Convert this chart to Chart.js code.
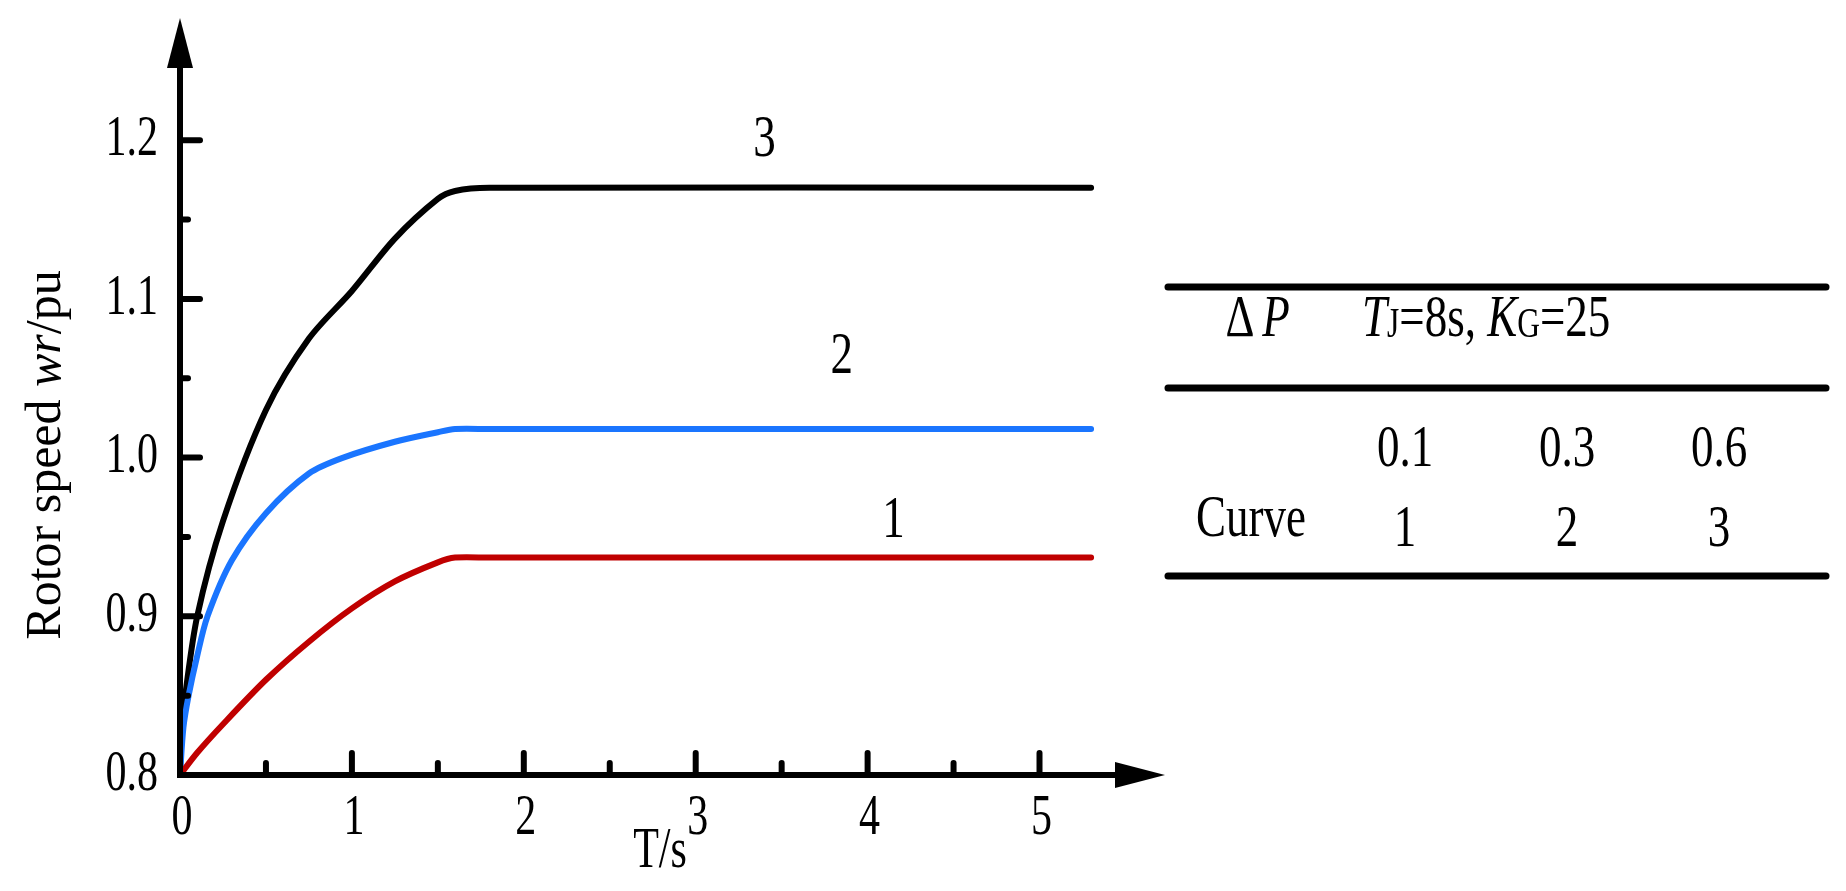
<!DOCTYPE html>
<html>
<head>
<meta charset="utf-8">
<script src="https://cdn.jsdelivr.net/npm/chart.js@4"></script>
<style>
  html, body { margin: 0; padding: 0; background: #fff; }
  #wrap { width: 1846px; height: 891px; }
</style>
</head>
<body>
<div id="wrap"><canvas id="rotorChart" width="1846" height="891"></canvas></div>
<script>
// time (s) and rotor speed (pu)
const curve1T = [0, 0.1, 0.25, 0.5, 0.75, 1.0, 1.25, 1.5, 1.6, 1.8, 5.3];
const curve1W = [0.8, 0.814, 0.832, 0.86, 0.884, 0.905, 0.922, 0.934, 0.937, 0.937, 0.937];
const curve2T = [0, 0.02, 0.05, 0.1, 0.16, 0.3, 0.5, 0.75, 0.95, 1.25, 1.5, 1.6, 1.8, 5.3];
const curve2W = [0.8, 0.83, 0.85, 0.875, 0.9, 0.935, 0.965, 0.99, 1.0, 1.01, 1.016, 1.018, 1.018, 1.018];
const curve3T = [0, 0.01, 0.03, 0.1, 0.25, 0.5, 0.75, 1.0, 1.25, 1.5, 1.6, 1.8, 5.3];
const curve3W = [0.8, 0.83, 0.85, 0.9, 0.96, 1.03, 1.075, 1.105, 1.138, 1.163, 1.168, 1.17, 1.17];

const xMajorTicks = [0, 1, 2, 3, 4, 5];
const xMinorTicks = [0.5, 1.5, 2.5, 3.5, 4.5];
const yMajorTicks = [0.8, 0.9, 1.0, 1.1, 1.2];
const yMinorTicks = [0.85, 0.95, 1.05, 1.15];
const yTickLabels = ["0.8", "0.9", "1.0", "1.1", "1.2"];

const deltaP = ["0.1", "0.3", "0.6"];
const curveNo = ["1", "2", "3"];

const SERIF = '"Liberation Serif", "DejaVu Serif", serif';

function toPoints(ts, ws) {
  return ts.map((t, i) => ({ x: t, y: ws[i] }));
}

// condensed serif text, like the original figure
function txt(ctx, s, x, y, size, align, opts) {
  opts = opts || {};
  ctx.save();
  ctx.translate(x, y);
  ctx.scale(opts.sx || 0.75, 1);
  ctx.font = (opts.italic ? "italic " : "") + size + "px " + SERIF;
  ctx.fillStyle = "#000";
  ctx.textAlign = align || "center";
  ctx.textBaseline = "middle";
  ctx.fillText(s, 0, 0);
  const w = ctx.measureText(s).width * (opts.sx || 0.75);
  ctx.restore();
  return w;
}

// draws a run of [text, size, italic] pieces left to right
function runText(ctx, pieces, x, y) {
  let cx = x;
  pieces.forEach(p => {
    cx += txt(ctx, p[0], cx, y + (p[3] || 0), p[1], "left", { italic: p[2] });
  });
  return cx;
}

const axesPlugin = {
  id: "axesPlugin",
  afterDraw(chart) {
    const ctx = chart.ctx;
    const xs = chart.scales.x, ys = chart.scales.y;
    const x0 = xs.getPixelForValue(0), y0 = ys.getPixelForValue(0.8);
    const xEnd = chart.chartArea.right, yEnd = chart.chartArea.top;
    ctx.save();
    ctx.strokeStyle = "#000";
    ctx.fillStyle = "#000";
    ctx.lineWidth = 6;
    ctx.lineCap = "round";
    // axes
    ctx.beginPath();
    ctx.moveTo(x0, yEnd + 40); ctx.lineTo(x0, y0);
    ctx.lineTo(xEnd - 40, y0);
    ctx.stroke();
    // arrows
    ctx.beginPath();
    ctx.moveTo(x0, yEnd); ctx.lineTo(x0 - 13, yEnd + 50); ctx.lineTo(x0 + 13, yEnd + 50); ctx.closePath();
    ctx.fill();
    ctx.beginPath();
    ctx.moveTo(xEnd, y0); ctx.lineTo(xEnd - 50, y0 - 13); ctx.lineTo(xEnd - 50, y0 + 13); ctx.closePath();
    ctx.fill();
    // ticks
    ctx.lineWidth = 6;
    yMajorTicks.forEach((v, i) => {
      const py = ys.getPixelForValue(v);
      if (i > 0) { ctx.beginPath(); ctx.moveTo(x0, py); ctx.lineTo(x0 + 20, py); ctx.stroke(); }
      txt(ctx, yTickLabels[i], x0 - 22, py, 56, "right");
    });
    yMinorTicks.forEach(v => {
      const py = ys.getPixelForValue(v);
      ctx.beginPath(); ctx.moveTo(x0, py); ctx.lineTo(x0 + 8, py); ctx.stroke();
    });
    xMajorTicks.forEach(v => {
      const px = xs.getPixelForValue(v);
      if (v > 0) { ctx.beginPath(); ctx.moveTo(px, y0); ctx.lineTo(px, y0 - 22); ctx.stroke(); }
      txt(ctx, String(v), px + 2, y0 + 44, 56, "center");
    });
    xMinorTicks.forEach(v => {
      const px = xs.getPixelForValue(v);
      ctx.beginPath(); ctx.moveTo(px, y0); ctx.lineTo(px, y0 - 12); ctx.stroke();
    });
    // axis titles
    txt(ctx, "T/s", 660, 852, 56, "center");
    ctx.save();
    ctx.translate(47, 455);
    ctx.rotate(-Math.PI / 2);
    ctx.font = "50px " + SERIF;
    const pieces = [["Rotor speed ", false], ["wr", true], ["/pu", false]];
    let total = 0;
    pieces.forEach(p => { ctx.font = (p[1] ? "italic " : "") + "50px " + SERIF; total += ctx.measureText(p[0]).width; });
    let cx = -total / 2;
    ctx.textBaseline = "middle";
    pieces.forEach(p => {
      ctx.font = (p[1] ? "italic " : "") + "50px " + SERIF;
      ctx.fillText(p[0], cx, 0);
      cx += ctx.measureText(p[0]).width;
    });
    ctx.restore();
    // curve labels
    txt(ctx, "3", xs.getPixelForValue(3.4), ys.getPixelForValue(1.2), 60, "center");
    txt(ctx, "2", xs.getPixelForValue(3.85), ys.getPixelForValue(1.063), 60, "center");
    txt(ctx, "1", xs.getPixelForValue(4.15), ys.getPixelForValue(0.96), 60, "center");
    // parameter table
    ctx.lineWidth = 7;
    [287, 388, 576].forEach(ly => {
      ctx.beginPath(); ctx.moveTo(1168, ly); ctx.lineTo(1826, ly); ctx.stroke();
    });
    txt(ctx, "\u0394", 1240, 320, 60, "center");
    txt(ctx, "P", 1276, 320, 60, "center", { italic: true });
    runText(ctx, [["T", 60, true], ["J", 42, false, 6], ["=8s, ", 60, false], ["K", 60, true], ["G", 42, false, 6], ["=25", 60, false]], 1362, 320);
    deltaP.forEach((s, i) => txt(ctx, s, [1405, 1567, 1719][i], 450, 60, "center"));
    txt(ctx, "Curve", 1251, 520, 60, "center");
    curveNo.forEach((s, i) => txt(ctx, s, [1405, 1567, 1719][i], 530, 60, "center"));
    ctx.restore();
  }
};

const ctx = document.getElementById("rotorChart").getContext("2d");
new Chart(ctx, {
  type: "line",
  data: {
    datasets: [
      { data: toPoints(curve1T, curve1W), borderColor: "#c00000", borderWidth: 6 },
      { data: toPoints(curve2T, curve2W), borderColor: "#1a75ff", borderWidth: 6 },
      { data: toPoints(curve3T, curve3W), borderColor: "#000000", borderWidth: 6 },
    ],
  },
  options: {
    responsive: false,
    animation: false,
    layout: { padding: { top: 18, right: 681, left: 0, bottom: 0 } },
    elements: { point: { radius: 0 }, line: { tension: 0.3, borderCapStyle: "round" } },
    plugins: { legend: { display: false }, tooltip: { enabled: false } },
    scales: {
      x: {
        type: "linear", min: 0, max: 5.73,
        grid: { display: false }, border: { display: false },
        ticks: { display: false },
        afterFit: s => { s.height = 116; },
      },
      y: {
        type: "linear", min: 0.8, max: 1.277,
        grid: { display: false }, border: { display: false },
        ticks: { display: false },
        afterFit: s => { s.width = 180; },
      },
    },
  },
  plugins: [axesPlugin],
});
</script>
</body>
</html>
